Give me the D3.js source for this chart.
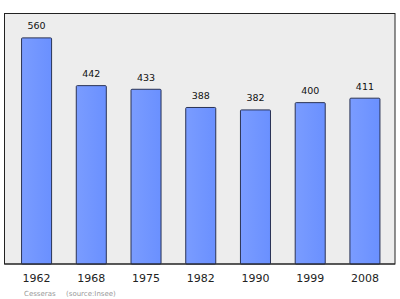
<!DOCTYPE html>
<html>
<head>
<meta charset="utf-8">
<script src="https://cdn.jsdelivr.net/npm/d3@7"></script>
<style>
  body { margin: 0; background: #fff; }
  svg { display: block; font-family: "DejaVu Sans", sans-serif; }
</style>
</head>
<body>
<svg id="chart" width="400" height="299"></svg>
<script>
const years = ['1962', '1968', '1975', '1982', '1990', '1999', '2008'];
const population = [560, 442, 433, 388, 382, 400, 411];
const commune = 'Cesseras';
const source = '(source:Insee)';

const svg = d3.select('#chart');
const frame = { left: 4.5, top: 13.5, right: 395, bottom: 264 };

const x = d3.scaleBand()
  .domain(years)
  .range([9.2, 392.3])
  .paddingInner(0.433)
  .paddingOuter(0.2165);

const y = d3.scaleLinear()
  .domain([0, 619])
  .range([frame.bottom, frame.top]);

const defs = svg.append('defs');
const grad = defs.append('linearGradient')
  .attr('id', 'barFill')
  .attr('x1', 0).attr('x2', 1).attr('y1', 0).attr('y2', 0);
grad.append('stop').attr('offset', '0%').attr('stop-color', '#7a9cff');
grad.append('stop').attr('offset', '100%').attr('stop-color', '#6a90ff');

svg.append('rect')
  .attr('x', frame.left)
  .attr('y', frame.top)
  .attr('width', frame.right - frame.left)
  .attr('height', frame.bottom - frame.top)
  .attr('fill', '#ededed')
  .attr('stroke', '#222')
  .attr('stroke-width', 1);

svg.append('g')
  .selectAll('rect')
  .data(population)
  .join('rect')
  .attr('x', (d, i) => x(years[i]) + 0.5)
  .attr('y', d => y(d) + 0.5)
  .attr('width', x.bandwidth() - 1)
  .attr('height', d => frame.bottom - y(d) - 0.5)
  .attr('rx', 1)
  .attr('fill', 'url(#barFill)')
  .attr('stroke', '#2a3355')
  .attr('stroke-width', 1);

// redraw baseline over bar bottoms
svg.append('line')
  .attr('x1', frame.left).attr('x2', frame.right)
  .attr('y1', frame.bottom).attr('y2', frame.bottom)
  .attr('stroke', '#222');

svg.append('g')
  .selectAll('text')
  .data(population)
  .join('text')
  .attr('x', (d, i) => x(years[i]) + x.bandwidth() / 2)
  .attr('y', d => y(d) - 8)
  .attr('text-anchor', 'middle')
  .attr('font-size', 9.5)
  .attr('fill', '#111')
  .text(d => d);

const xAxis = d3.axisBottom(x).tickSize(0).tickPadding(10);
const axisG = svg.append('g')
  .attr('transform', `translate(0,${frame.bottom})`)
  .call(xAxis);
axisG.select('.domain').remove();
axisG.selectAll('text')
  .attr('font-size', 11)
  .attr('font-family', '"DejaVu Sans", sans-serif')
  .attr('fill', '#222');

svg.append('text')
  .attr('x', 24)
  .attr('y', 296)
  .attr('font-size', 7)
  .attr('fill', '#999')
  .text(commune);

svg.append('text')
  .attr('x', 66)
  .attr('y', 296)
  .attr('font-size', 7)
  .attr('fill', '#999')
  .text(source);
</script>
</body>
</html>
